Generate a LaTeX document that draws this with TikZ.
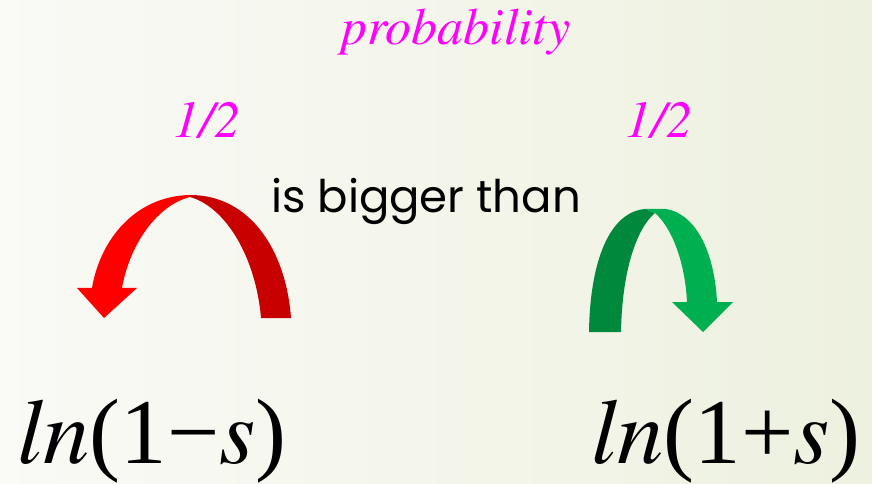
\documentclass[tikz,border=0pt]{standalone}
\usepackage[T1,TU]{fontenc}
\usepackage{fontspec}
\setmainfont{Liberation Serif}
\newfontfamily\gothic{Poppins}
\newcommand\timesit{\fontencoding{T1}\fontfamily{ptm}\fontshape{it}\selectfont}
\usepackage{tikz}
\usetikzlibrary{positioning}

\definecolor{probpink}{HTML}{FF00FF}
\definecolor{litered}{HTML}{FF0000}
\definecolor{darkred}{HTML}{C80000}
\definecolor{litegreen}{HTML}{00B050}
\definecolor{darkgreen}{HTML}{00883C}
\definecolor{bgleft}{HTML}{FAFAF6}
\definecolor{bgright}{HTML}{EDF1DF}

\begin{document}
\begin{tikzpicture}[
    x=0.025cm, y=-0.025cm,
    prob/.style={text=probpink, font=\fontsize{37}{41}\timesit, anchor=base, inner sep=0pt},
    says/.style={text=black, font=\gothic\fontsize{32}{36}\selectfont, anchor=base, inner sep=0pt},
    logterm/.style={text=black, font=\fontsize{66}{72}\selectfont, anchor=base, inner sep=0pt}
]
\useasboundingbox (0,0) rectangle (872,484);
\shade[left color=bgleft, right color=bgright] (0,0) rectangle (872,484);

% labels
\node[prob] (probability) at (456,45) {probability};
\node[prob] (halfleft) at (207,138) {1/2};
\node[prob] (halfright) at (659,138) {1/2};
\node[says] (bigger) at (426,213) {is bigger than};
\node[logterm] (lnminus) at (152,463) {{\timesit ln}(1−{\timesit s})};
\node[logterm] (lnplus) at (726,463) {{\timesit ln}(1+{\timesit s})};

% red arrow, turning left
\fill[darkred] (190,195) .. controls (250,195) and (286,250) .. (291,318)
  -- (261,318) .. controls (256,258) and (226,207) .. (190,197) -- cycle;
\fill[litered] (190,195) .. controls (135,196) and (100,240) .. (92,288)
  -- (77,288) -- (104,318) -- (137,288) -- (122,288)
  .. controls (130,243) and (158,205) .. (190,197) -- cycle;

% green arrow, turning right
\fill[darkgreen] (589,332) .. controls (590,260) and (610,212) .. (645,209)
  -- (655,213) .. controls (637,228) and (622,270) .. (621,332) -- cycle;
\fill[litegreen] (645,209) -- (666,209) .. controls (700,215) and (715,260) .. (717,302)
  -- (733,302) -- (703,332) -- (672,302) -- (687,302)
  .. controls (685,262) and (672,228) .. (655,213) -- cycle;
\end{tikzpicture}
\end{document}
